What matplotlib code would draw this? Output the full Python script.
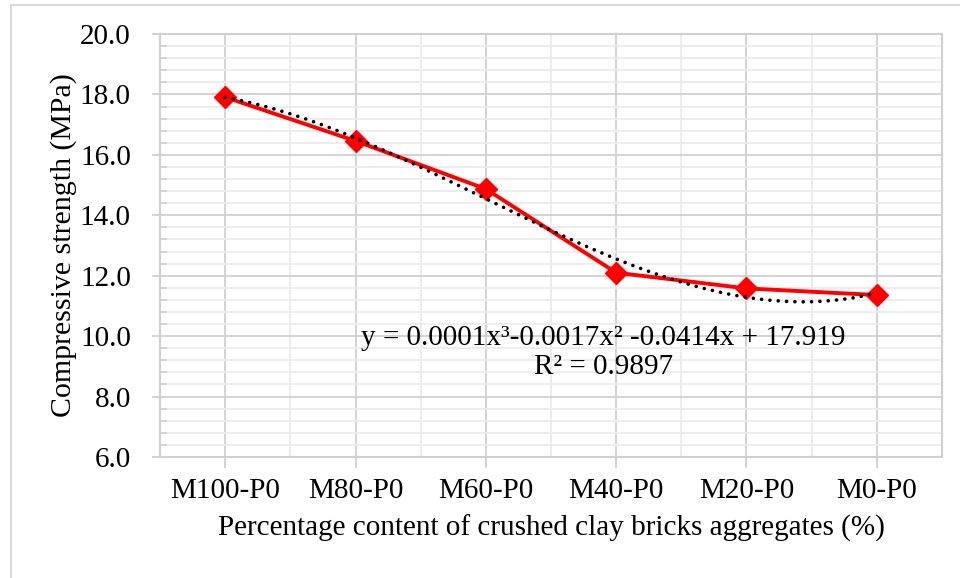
import matplotlib
matplotlib.use("Agg")
import matplotlib.pyplot as plt
import numpy as np
from matplotlib.ticker import MultipleLocator, FixedLocator

plt.rcParams["font.family"] = ["Liberation Serif", "DejaVu Serif"]

# data
mixes = ["M100-P0", "M80-P0", "M60-P0", "M40-P0", "M20-P0", "M0-P0"]
strength = [17.91, 16.46, 14.87, 12.10, 11.58, 11.36]
eq_text = "y = 0.0001x³-0.0017x² -0.0414x + 17.919"
r2_text = "R² = 0.9897"

x = np.arange(1, len(mixes) + 1)

# polynomial (order 3) trendline, like Excel does
coef = np.polyfit(x, strength, 3)
xs = np.linspace(x[0], x[-1], 200)
ys = np.polyval(coef, xs)

fig = plt.figure(figsize=(9.6, 5.78), dpi=100)
ax = fig.add_axes([160 / 960, 1 - 457 / 578, 782 / 960, 423 / 578])

# outer chart border
fig.add_artist(plt.Rectangle((11 / 960, -0.01), 1.0, 1 - 5 / 578 + 0.01,
                             transform=fig.transFigure, fill=False,
                             edgecolor="#d9d9d9", linewidth=1.5))

ax.set_xlim(0.5, 6.5)
ax.set_ylim(6, 20)

ax.xaxis.set_major_locator(FixedLocator(x))
ax.xaxis.set_minor_locator(FixedLocator(x[:-1] + 0.5))
ax.yaxis.set_major_locator(MultipleLocator(2))
ax.yaxis.set_minor_locator(MultipleLocator(0.4))
ax.set_xticklabels(mixes)
ax.yaxis.set_major_formatter(matplotlib.ticker.FormatStrFormatter("%.1f"))

ax.grid(which="major", color="#d0d0d0", linewidth=1.3)
ax.grid(which="minor", color="#ececec", linewidth=1.3)
ax.set_axisbelow(True)

for s in ax.spines.values():
    s.set_color("#d0d0d0")
    s.set_linewidth(1.5)

ax.tick_params(axis="x", which="major", length=8, width=1.3, color="#d0d0d0",
               labelsize=21, pad=7)
ax.tick_params(axis="x", which="minor", length=0)
ax.tick_params(axis="y", which="major", length=6, width=1.3, color="#d0d0d0",
               labelsize=21, pad=15)
ax.tick_params(axis="y", which="minor", direction="in", length=5, width=1.3,
               color="#d0d0d0")

ax.plot(x, strength, color="#ff0000", linewidth=2.8, marker="D",
        markersize=11.5, zorder=3)
ax.plot(xs, ys, color="black", linewidth=2.6, linestyle=(0, (0.01, 2.3)),
        dash_capstyle="round", zorder=4)

ax.text(3.9, 9.94, eq_text, ha="center", va="center", fontsize=21)
ax.text(3.9, 8.99, r2_text, ha="center", va="center", fontsize=21)

ax.set_ylabel("Compressive strength (MPa)", fontsize=21.5)
ax.yaxis.set_label_coords(-0.106, 0.5)
ax.set_xlabel("Percentage content of crushed clay bricks aggregates (%)",
              fontsize=21, labelpad=8)

fig.savefig("out.png", dpi=100)
